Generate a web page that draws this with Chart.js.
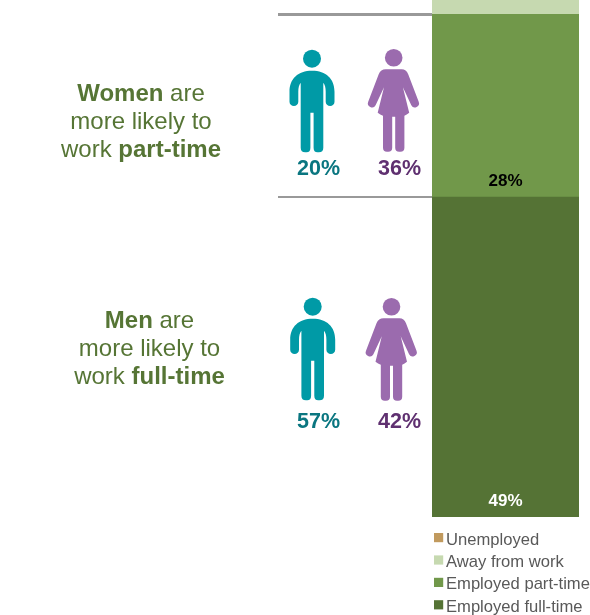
<!DOCTYPE html>
<html>
<head>
<meta charset="utf-8">
<style>
html,body{margin:0;padding:0;background:#fff;overflow:hidden}
canvas{display:block}
</style>
<script src="https://cdn.jsdelivr.net/npm/chart.js@4"></script>
</head>
<body>
<canvas id="c" width="590" height="615"></canvas>
<script>
const categories = ["All"];
const fullTime = [49];
const partTime = [28];
const away = [5];
const unemployed = [4];
const fullTimeLabel = "Employed full-time";
const partTimeLabel = "Employed part-time";
const awayLabel = "Away from work";
const unemployedLabel = "Unemployed";
const menPartTime = "20%";
const womenPartTime = "36%";
const menFullTime = "57%";
const womenFullTime = "42%";
const partTimeHeadline = [[["Women",1],[" are",0]],[["more likely to",0]],[["work ",0],["part-time",1]]];
const fullTimeHeadline = [[["Men",1],[" are",0]],[["more likely to",0]],[["work ",0],["full-time",1]]];

const FONT = '"Liberation Sans", Arial, sans-serif';
const MAN = new Path2D("M0,12 C14,12 22.5,20 22.5,33 L22.5,43 A4.4,4.4 0 0 1 13.7,43 L13.7,33 C13.7,29 13,26 11.3,24 L11.3,89 Q11.3,93.5 6.8,93.5 L5.5,93.5 Q1.6,93.5 1.6,89 L1.6,54 L-1.6,54 L-1.6,89 Q-1.6,93.5 -5.5,93.5 L-6.8,93.5 Q-11.3,93.5 -11.3,89 L-11.3,24 C-13,26 -13.7,29 -13.7,33 L-13.7,43 A4.4,4.4 0 0 1 -22.5,43 L-22.5,33 C-22.5,20 -14,12 0,12 Z");
const WOMAN = new Path2D("M-8,11.6 L8,11.6 Q12.5,11.6 14.5,16.5 L25,44 A4.1,4.1 0 0 1 17.6,47.5 L9.2,29.5 L15.5,55 Q13,57 10.7,58 L10.7,90 Q10.7,94 6.7,94 L5.5,94 Q1.5,94 1.5,90 L1.5,59 L-1.5,59 L-1.5,90 Q-1.5,94 -5.5,94 L-6.7,94 Q-10.7,94 -10.7,90 L-10.7,58 Q-13.5,57 -16,55 L-9.7,29.5 L-18.1,47.5 A4.1,4.1 0 0 1 -25.5,44 L-15,16.5 Q-13,11.6 -8,11.6 Z");

function figure(ctx, shape, x, y, r, color){
  ctx.save();
  ctx.translate(x, y);
  ctx.fillStyle = color;
  ctx.beginPath(); ctx.arc(0, 0, r, 0, Math.PI*2); ctx.fill();
  ctx.fill(shape);
  ctx.restore();
}
function runs(ctx, lines, cx, y0, step, color){
  ctx.fillStyle = color;
  ctx.textBaseline = "middle";
  ctx.textAlign = "left";
  const fontFor = b => (b ? "bold " : "") + "24px " + FONT;
  lines.forEach((line, i) => {
    let w = 0;
    line.forEach(([t,b]) => { ctx.font = fontFor(b); w += ctx.measureText(t).width; });
    let x = cx - w/2;
    line.forEach(([t,b]) => { ctx.font = fontFor(b); ctx.fillText(t, x, y0 + i*step); x += ctx.measureText(t).width; });
  });
}
function label(ctx, t, x, y, font, color){
  ctx.font = font; ctx.fillStyle = color;
  ctx.textAlign = "center"; ctx.textBaseline = "middle";
  ctx.fillText(t, x, y);
}
const annotate = {
  id: "annotate",
  afterDatasetsDraw(chart){
    const ctx = chart.ctx;
    ctx.save();
    // divider rules
    ctx.fillStyle = "#999999";
    ctx.fillRect(278, 13, 154, 3);
    ctx.fillRect(278, 196, 154, 2);
    // segment labels, anchored to each bar's base
    const m0 = chart.getDatasetMeta(0).data[0], m1 = chart.getDatasetMeta(1).data[0];
    label(ctx, fullTime[0] + "%", m0.x, m0.base - 16, "bold 17px " + FONT, "#ffffff");
    label(ctx, partTime[0] + "%", m1.x, m1.base - 16, "bold 17px " + FONT, "#000000");
    // figures
    figure(ctx, MAN, 312, 58.7, 9, "#009AA6");
    figure(ctx, WOMAN, 393.7, 57.7, 8.8, "#9B6BAE");
    figure(ctx, MAN, 312.7, 306.7, 9, "#009AA6");
    figure(ctx, WOMAN, 391.5, 306.7, 8.8, "#9B6BAE");
    const pf = "bold 21.5px " + FONT;
    label(ctx, menPartTime, 318.5, 169.5, pf, "#0A7680");
    label(ctx, womenPartTime, 399.5, 169.5, pf, "#5F3070");
    label(ctx, menFullTime, 318.5, 422.5, pf, "#0A7680");
    label(ctx, womenFullTime, 399.5, 422.5, pf, "#5F3070");
    // headlines
    runs(ctx, partTimeHeadline, 141, 94.5, 28, "#567535");
    runs(ctx, fullTimeHeadline, 149.5, 321.5, 27.7, "#567535");
    // legend, built from the datasets in reverse stacking order
    chart.data.datasets.slice().reverse().forEach((d, i) => {
      const y = 537.6 + i*22.4;
      ctx.fillStyle = d.backgroundColor;
      ctx.fillRect(434, y-4.6, 9.2, 9.2);
      ctx.fillStyle = "#595959";
      ctx.font = "16.6px " + FONT;
      ctx.textAlign = "left"; ctx.textBaseline = "middle";
      ctx.fillText(d.label, 446, y + 2.4);
    });
    ctx.restore();
  }
};
new Chart(document.getElementById("c"), {
  type: "bar",
  data: {
    labels: categories,
    datasets: [
      {label: fullTimeLabel, data: fullTime, backgroundColor: "#557335"},
      {label: partTimeLabel, data: partTime, backgroundColor: "#71984A"},
      {label: awayLabel, data: away, backgroundColor: "#C6D9B0"},
      {label: unemployedLabel, data: unemployed, backgroundColor: "#C19A5E"}
    ]
  },
  options: {
    responsive: false,
    animation: false,
    devicePixelRatio: 1,
    layout: {padding: {left: 432, right: 11, top: 0, bottom: 98}},
    plugins: {legend: {display: false}, tooltip: {enabled: false}},
    datasets: {bar: {barPercentage: 1, categoryPercentage: 1, borderWidth: 0}},
    scales: {
      x: {stacked: true, display: false},
      y: {stacked: true, display: false, min: 0, max: 79.2}
    }
  },
  plugins: [annotate]
});
</script>
</body>
</html>
